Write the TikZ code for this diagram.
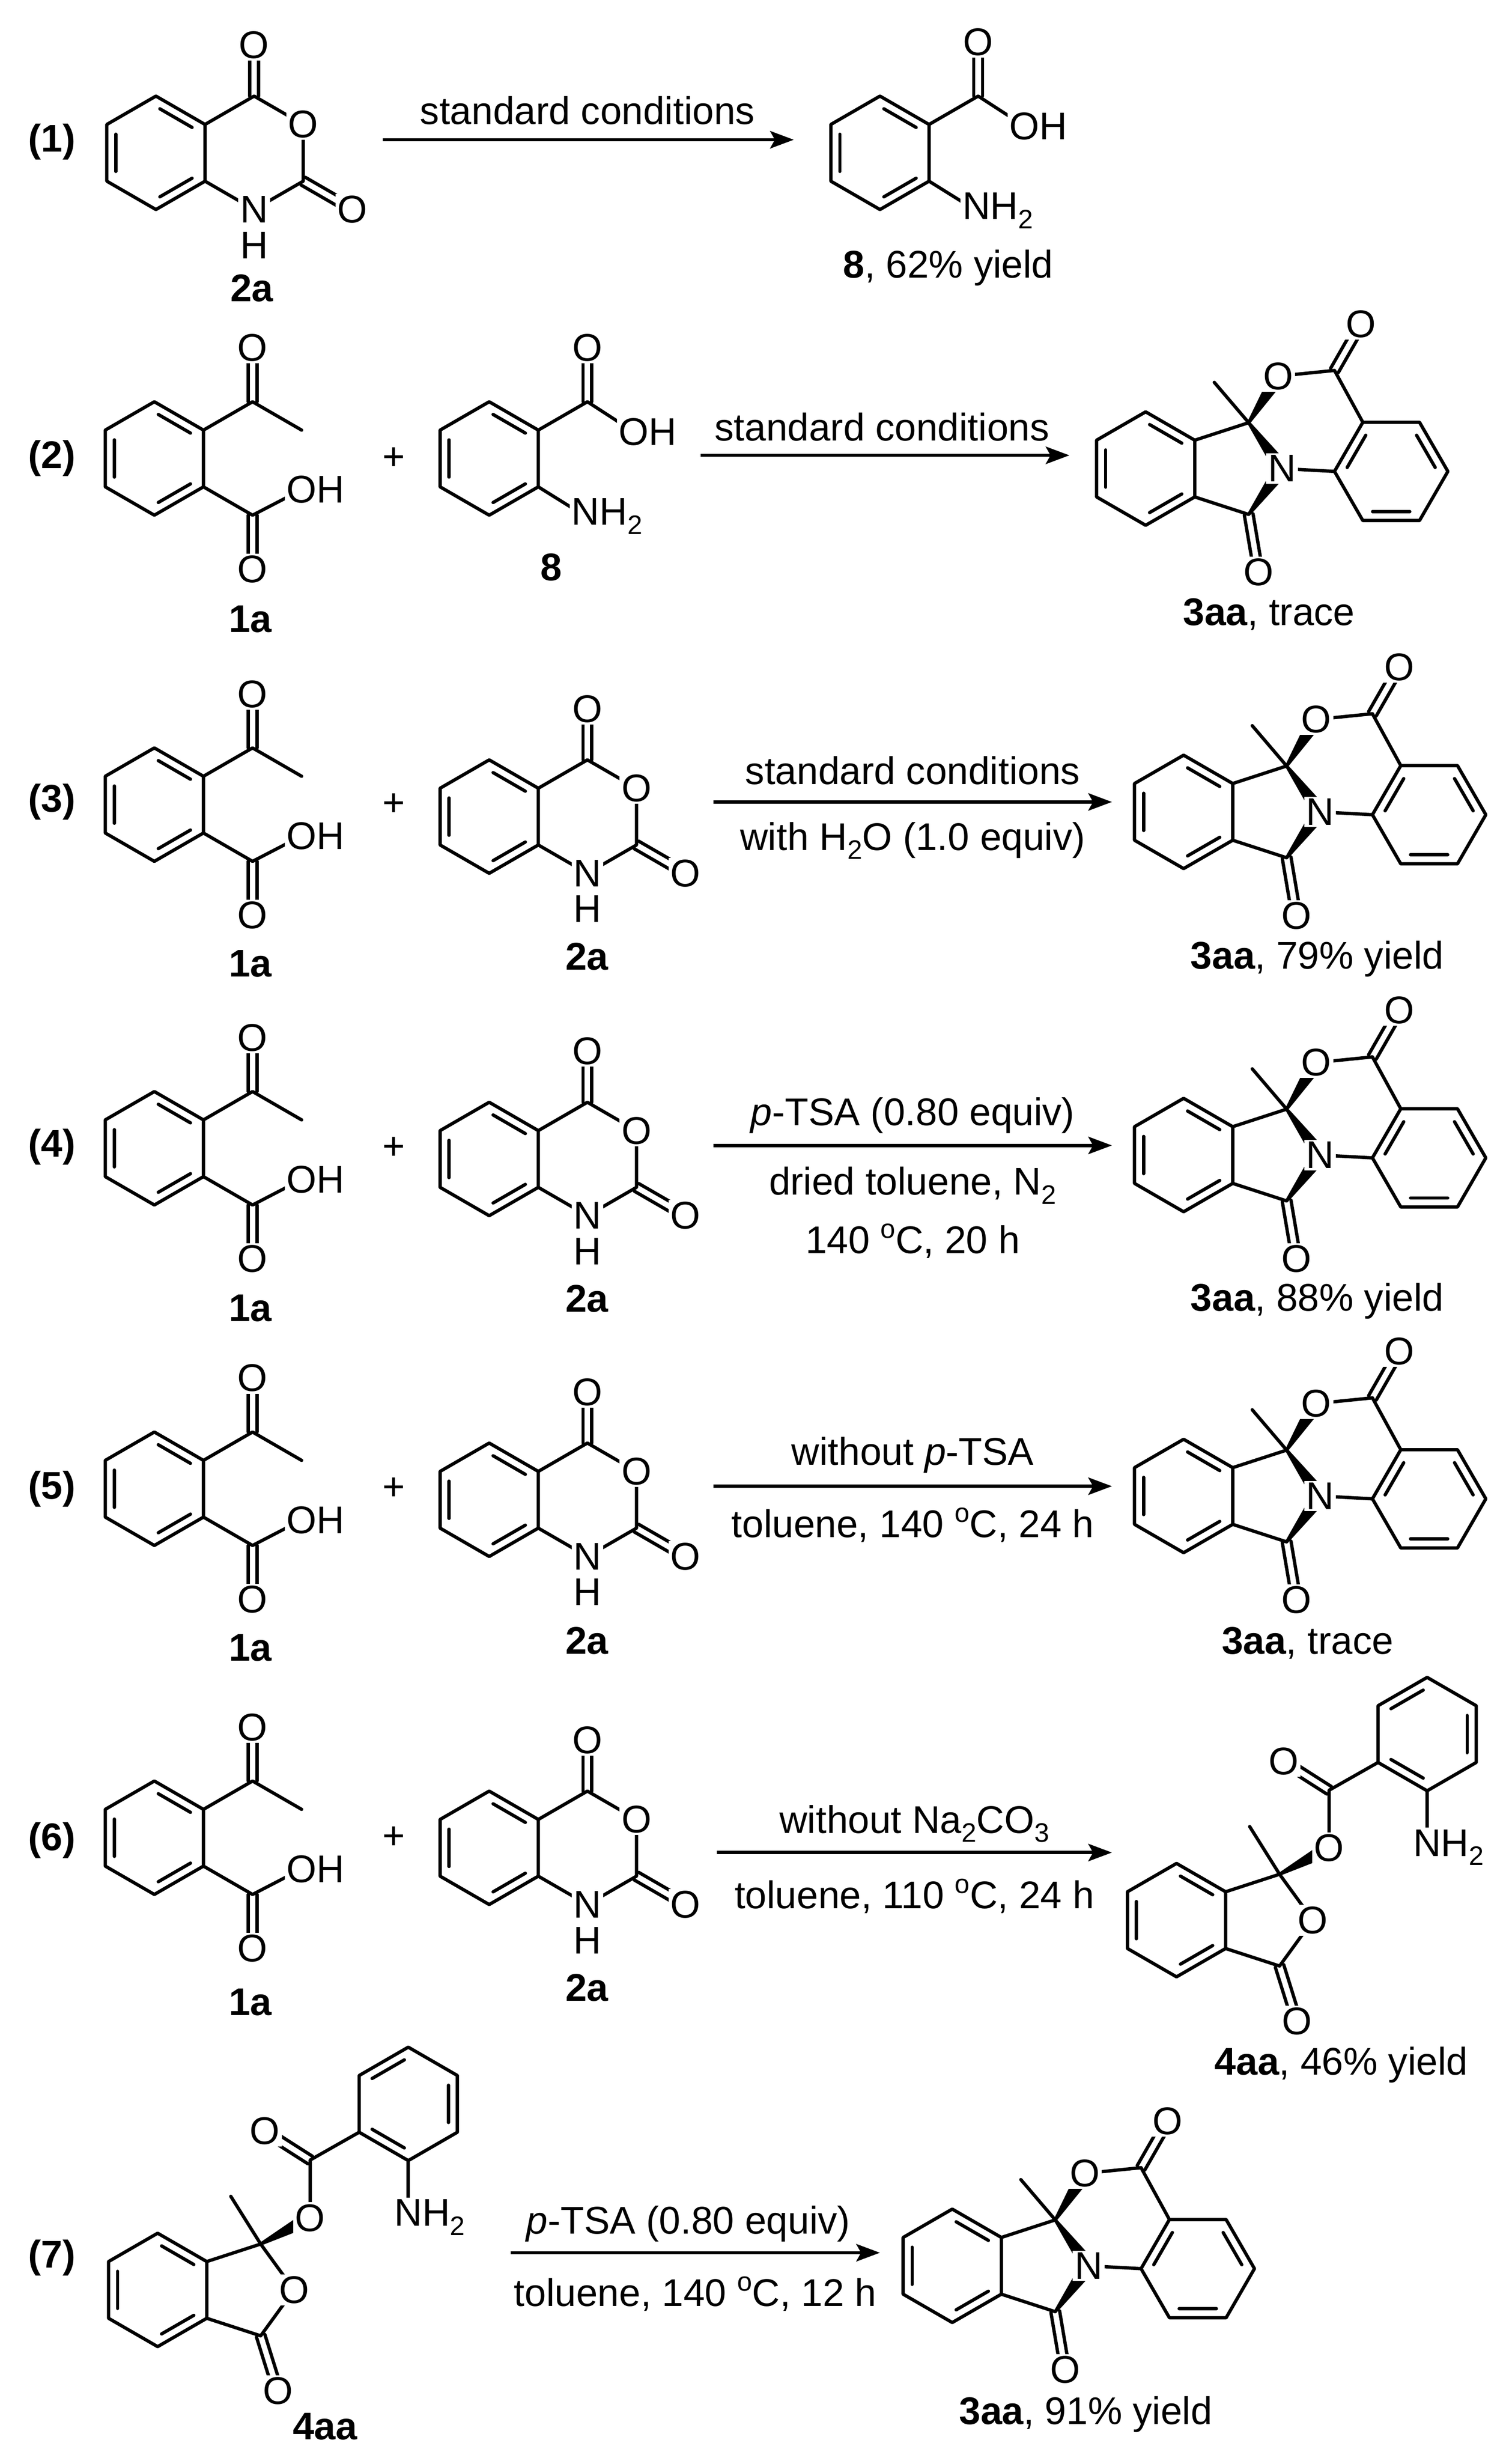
\documentclass[tikz,border=0pt]{standalone}
\usepackage{fontspec}
\setmainfont{Liberation Sans}
\usetikzlibrary{calc,arrows.meta}
\newcommand\chsub[1]{\raisebox{-0.45ex}{\fontsize{17}{17}\selectfont #1}}
\newcommand\degr{\raisebox{0.75ex}{\fontsize{17}{17}\selectfont o}}
\tikzset{
 bond/.style={line width=2.1pt,line join=round,line cap=round},
 atom/.style={fill=white,inner sep=1.2pt},
 lab/.style={inner sep=0pt},
 rxn/.style={line width=2.1pt,-{Stealth[length=15pt,width=11pt,inset=3pt]}},
}
\newcommand\hexP[3]{\foreach \i/\a in {1/90,2/30,3/-30,4/-90,5/-150,6/150}{\coordinate (#1\i) at ($(#2,#3)+(\a:1)$);}\coordinate (#1c) at (#2,#3);}
\newcommand\hexF[3]{\foreach \i/\a in {1/120,2/60,3/0,4/-60,5/-120,6/180}{\coordinate (#1\i) at ($(#2,#3)+(\a:1)$);}\coordinate (#1c) at (#2,#3);}
\newcommand\hexdraw[1]{\draw[bond] (#11)--(#12)--(#13)--(#14)--(#15)--(#16)--cycle;}
\newcommand\inn[3]{\draw[bond] ($(#1)!0.2!(#3)!0.08!(#2)$) -- ($(#2)!0.2!(#3)!0.08!(#1)$);}
\newcommand\stdinner[1]{\inn{#11}{#12}{#1c}\inn{#13}{#14}{#1c}\inn{#15}{#16}{#1c}}
\newcommand\dbl[2]{\draw[bond] ($(#1)!2.8pt!90:(#2)$) -- ($(#2)!2.8pt!-90:(#1)$);
 \draw[bond] ($(#1)!2.8pt!-90:(#2)$) -- ($(#2)!2.8pt!90:(#1)$);}
\newcommand\wdg[2]{\fill ($(#1)!1pt!90:(#2)$) -- ($(#2)!5pt!-90:(#1)$) -- ($(#2)!5pt!90:(#1)$) -- ($(#1)!1pt!-90:(#2)$) -- cycle;}
% isatoic anhydride 2a
\newcommand\molIsa[3]{\begin{scope}[shift={(#2,#3)},x=36pt,y=36pt]
 \hexP{#1}{0}{0}
 \coordinate (#1C4) at (1.732,1); \coordinate (#1O4) at (1.732,1.9);
 \coordinate (#1O1) at (2.598,0.5); \coordinate (#1C2) at (2.598,-0.5);
 \coordinate (#1O2) at (3.464,-1); \coordinate (#1N) at (1.732,-1);
 \coordinate (#1H) at (1.732,-1.63);
 \hexdraw{#1}\stdinner{#1}
 \draw[bond] (#12)--(#1C4)--(#1O1)--(#1C2)--(#1N)--(#13);
 \dbl{#1C4}{#1O4}\dbl{#1C2}{#1O2}
 \node[atom] (#1lO4) at (#1O4) {O};
 \node[atom] (#1lO1) at (#1O1) {O};
 \node[atom] (#1lO2) at (#1O2) {O};
 \node[atom] (#1lN) at (#1N) {N};
 \node[atom] (#1lH) at (#1H) {H};
\end{scope}}
% 2-acetylbenzoic acid 1a
\newcommand\molAcid[3]{\begin{scope}[shift={(#2,#3)},x=36pt,y=36pt]
 \hexP{#1}{0}{0}
 \coordinate (#1Ca) at (1.732,1); \coordinate (#1Oa) at (1.732,1.95);
 \coordinate (#1Me) at (2.598,0.5); \coordinate (#1Cc) at (1.732,-1);
 \coordinate (#1OH) at (2.6,-0.55); \coordinate (#1Oc) at (1.732,-1.95);
 \hexdraw{#1}\stdinner{#1}
 \draw[bond] (#12)--(#1Ca)--(#1Me);
 \draw[bond] (#13)--(#1Cc)--(#1OH);
 \dbl{#1Ca}{#1Oa}\dbl{#1Cc}{#1Oc}
 \node[atom] (#1lOa) at (#1Oa) {O};
 \node[atom] (#1lOH) at (#1OH) {O\rlap{H}};
 \node[atom] (#1lOc) at (#1Oc) {O};
\end{scope}}
% anthranilic acid 8
\newcommand\molAnth[3]{\begin{scope}[shift={(#2,#3)},x=36pt,y=36pt]
 \hexP{#1}{0}{0}
 \coordinate (#1C) at (1.732,1); \coordinate (#1O) at (1.732,1.95);
 \coordinate (#1OH) at (2.55,0.47); \coordinate (#1N) at (1.7,-1.02);
 \hexdraw{#1}\stdinner{#1}
 \draw[bond] (#12)--(#1C)--(#1OH);
 \draw[bond] (#13)--(#1N);
 \dbl{#1C}{#1O}
 \node[atom] (#1lO) at (#1O) {O};
 \node[atom] (#1lOH) at (#1OH) {O\rlap{H}};
 \node[atom] (#1lN) at (#1N) {N\rlap{H\chsub{2}}};
\end{scope}}
% 3aa
\newcommand\molSpiro[3]{\begin{scope}[shift={(#2,#3)},x=36pt,y=36pt]
 \hexP{#1}{0}{0}
 \hexF{#1q}{4.33}{-0.05}
 \coordinate (#1C3) at (1.817,0.809); \coordinate (#1C1) at (1.817,-0.809);
 \coordinate (#1N) at (2.405,0); \coordinate (#1Or) at (2.34,1.63);
 \coordinate (#1Cc) at (3.33,1.73); \coordinate (#1Ox) at (3.8,2.55);
 \coordinate (#1Me) at (1.21,1.52); \coordinate (#1Oy) at (1.99,-1.83);
 \hexdraw{#1}\stdinner{#1}
 \hexdraw{#1q}\inn{#1q6}{#1q1}{#1qc}\inn{#1q2}{#1q3}{#1qc}\inn{#1q4}{#1q5}{#1qc}
 \draw[bond] (#12)--(#1C3)--(#1Me);
 \draw[bond] (#13)--(#1C1);
 \draw[bond] (#1Or)--(#1Cc)--(#1q1);
 \draw[bond] (#1N)--(#1q6);
 \dbl{#1C1}{#1Oy}\dbl{#1Cc}{#1Ox}
 \wdg{#1C3}{#1Or}\wdg{#1C3}{#1N}\wdg{#1C1}{#1N}
 \node[atom] (#1lOr) at (#1Or) {O};
 \node[atom] (#1lOx) at (#1Ox) {O};
 \node[atom] (#1lOy) at (#1Oy) {O};
 \node[atom] (#1lN) at (#1N) {N};
\end{scope}}
% 4aa
\newcommand\molEster[3]{\begin{scope}[shift={(#2,#3)},x=36pt,y=36pt]
 \hexP{#1}{0}{0}
 \hexP{#1q}{4.42}{3.28}
 \coordinate (#1C3) at (1.817,0.809); \coordinate (#1Or) at (2.405,0);
 \coordinate (#1C1) at (1.817,-0.809); \coordinate (#1Ox) at (2.12,-1.78);
 \coordinate (#1Me) at (1.29,1.65); \coordinate (#1Oe) at (2.69,1.27);
 \coordinate (#1Ce) at (2.69,2.29); \coordinate (#1Oc) at (1.89,2.8);
 \coordinate (#1N) at (4.42,1.28);
 \hexdraw{#1}\stdinner{#1}
 \hexdraw{#1q}\inn{#1q6}{#1q1}{#1qc}\inn{#1q2}{#1q3}{#1qc}\inn{#1q4}{#1q5}{#1qc}
 \draw[bond] (#12)--(#1C3)--(#1Me);
 \draw[bond] (#1C3)--(#1Or)--(#1C1)--(#13);
 \draw[bond] (#1Oe)--(#1Ce)--(#1q5);
 \draw[bond] (#1q4)--(#1N);
 \dbl{#1C1}{#1Ox}\dbl{#1Ce}{#1Oc}
 \wdg{#1C3}{#1Oe}
 \node[atom] (#1lOr) at (#1Or) {O};
 \node[atom] (#1lOx) at (#1Ox) {O};
 \node[atom] (#1lOe) at (#1Oe) {O};
 \node[atom] (#1lOc) at (#1Oc) {O};
 \node[atom] (#1lN) at (#1N) {N\rlap{H\chsub{2}}};
\end{scope}}
\begin{document}
\begin{tikzpicture}[x=1pt,y=-1pt,font=\fontsize{24.5}{29}\selectfont]
\useasboundingbox[fill=white] (0,0) rectangle (960,1562);
% row labels
\foreach \n/\y in {1/90,2/291,3/509,4/728,5/945,6/1168,7/1433}{\node[lab,font=\fontsize{24.5}{29}\selectfont\bfseries] (row\n) at (33,\y) {(\n)};}
% ---- row 1
\molIsa{Ai}{99}{97}
\molAnth{Aii}{558.7}{97}
\node[lab] (l1a) at (160,183) {\textbf{2a}};
\node[lab] (l1b) at (602,170) {\textbf{8}, 62\% yield};
\coordinate (s1) at (243,88.7); \coordinate (e1) at (504,88.7);
\draw[rxn] (s1)--(e1);
\node[lab] (c1a) at (373,70) {standard conditions};
% ---- row 2
\molAcid{Bi}{98}{291}
\molAnth{Bii}{310.6}{291}
\molSpiro{Biii}{727.4}{297.4}
\node[lab] (p2) at (250,291) {+};
\node[lab] (l2a) at (159,393) {\textbf{1a}};
\node[lab] (l2b) at (350,360) {\textbf{8}};
\node[lab] (l2c) at (805.7,390) {\textbf{3aa}, trace};
\coordinate (s2) at (445,289); \coordinate (e2) at (679,289);
\draw[rxn] (s2)--(e2);
\node[lab] (c2a) at (560,271) {standard conditions};
% ---- row 3
\molAcid{Ci}{98}{510.7}
\molIsa{Cii}{310.6}{518.3}
\molSpiro{Ciii}{751.5}{515.3}
\node[lab] (p3) at (250,510.7) {+};
\node[lab] (l3a) at (159,611.6) {\textbf{1a}};
\node[lab] (l3b) at (372.7,607) {\textbf{2a}};
\node[lab] (l3c) at (836.3,608.6) {\textbf{3aa}, 79\% yield};
\coordinate (s3) at (452.9,509); \coordinate (e3) at (706,509);
\draw[rxn] (s3)--(e3);
\node[lab] (c3a) at (579.5,489) {standard conditions};
\node[lab] (c3b) at (579.5,533.6) {with H\chsub{2}O (1.0 equiv)};
% ---- row 4
\molAcid{Di}{98}{728.8}
\molIsa{Dii}{310.6}{735.6}
\molSpiro{Diii}{751.5}{733.1}
\node[lab] (p4) at (250,728.8) {+};
\node[lab] (l4a) at (159,830.4) {\textbf{1a}};
\node[lab] (l4b) at (372.7,824.3) {\textbf{2a}};
\node[lab] (l4c) at (836.3,825.8) {\textbf{3aa}, 88\% yield};
\coordinate (s4) at (452.9,727); \coordinate (e4) at (706,727);
\draw[rxn] (s4)--(e4);
\node[lab] (c4a) at (579.5,708) {\textit{p}-TSA (0.80 equiv)};
\node[lab] (c4b) at (579.5,752.4) {dried toluene, N\chsub{2}};
\node[lab] (c4c) at (579.5,787.6) {140 \degr C, 20 h};
% ---- row 5
\molAcid{Ei}{98}{944.9}
\molIsa{Eii}{310.6}{951.9}
\molSpiro{Eiii}{751.5}{949.5}
\node[lab] (p5) at (250,944.9) {+};
\node[lab] (l5a) at (159,1045.9) {\textbf{1a}};
\node[lab] (l5b) at (372.7,1041.3) {\textbf{2a}};
\node[lab] (l5c) at (830.2,1042.8) {\textbf{3aa}, trace};
\coordinate (s5) at (452.9,943.3); \coordinate (e5) at (706,943.3);
\draw[rxn] (s5)--(e5);
\node[lab] (c5a) at (579.5,923.4) {without \textit{p}-TSA};
\node[lab] (c5b) at (579.5,967.8) {toluene, 140 \degr C, 24 h};
% ---- row 6
\molAcid{Fi}{98}{1166.4}
\molIsa{Fii}{310.6}{1172.8}
\molEster{Fiii}{747}{1218.7}
\node[lab] (p6) at (250,1166.4) {+};
\node[lab] (l6a) at (159,1270.7) {\textbf{1a}};
\node[lab] (l6b) at (372.7,1261.5) {\textbf{2a}};
\node[lab] (l6c) at (851.6,1310.5) {\textbf{4aa}, 46\% yield};
\coordinate (s6) at (455.3,1175.8); \coordinate (e6) at (706,1175.8);
\draw[rxn] (s6)--(e6);
\node[lab] (c6a) at (580.6,1157.5) {without Na\chsub{2}CO\chsub{3}};
\node[lab] (c6b) at (580.6,1203.4) {toluene, 110 \degr C, 24 h};
% ---- row 7
\molEster{Gi}{100.1}{1453.4}
\molSpiro{Gii}{604.6}{1438.1}
\node[lab] (l7a) at (206.5,1540) {\textbf{4aa}};
\node[lab] (l7b) at (689.4,1532.3) {\textbf{3aa}, 91\% yield};
\coordinate (s7) at (324.4,1429.8); \coordinate (e7) at (558.7,1429.8);
\draw[rxn] (s7)--(e7);
\node[lab] (c7a) at (437,1411.4) {\textit{p}-TSA (0.80 equiv)};
\node[lab] (c7b) at (441.5,1455.8) {toluene, 140 \degr C, 12 h};
\end{tikzpicture}
\end{document}
